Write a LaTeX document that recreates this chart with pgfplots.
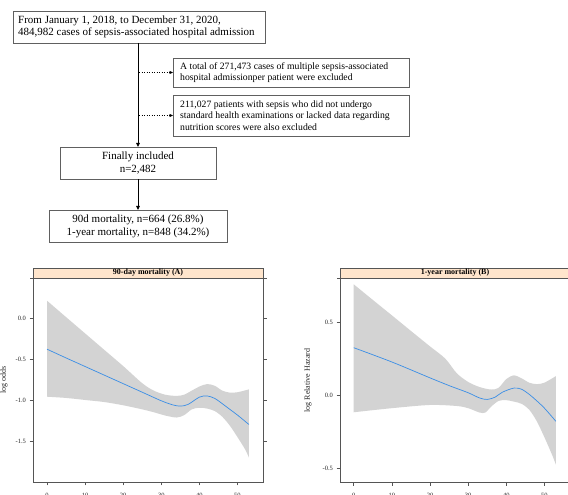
\documentclass[border=0pt]{standalone}
\usepackage{fontspec}
\setmainfont{Liberation Serif}
\usepackage{pgfplots}
\pgfplotsset{compat=1.18}
\usepgfplotslibrary{fillbetween}
\usetikzlibrary{arrows.meta}

\definecolor{stripc}{HTML}{FFE5CC}
\definecolor{bandc}{HTML}{D3D3D3}
\definecolor{curvec}{HTML}{3A8EE6}
\definecolor{axc}{HTML}{555555}
\definecolor{boxc}{HTML}{606060}

\pgfplotsset{
  panel/.style={
    scale only axis, width=230pt, height=204pt, anchor=south west,
    axis line style={axc, line width=0.8pt},
    tick style={axc, line width=0.6pt},
    tick align=outside, major tick length=3.5pt,
    xtick pos=bottom, ytick pos=both, yticklabel pos=left,
    xtick={0,10,20,30,40,50},
    ticklabel style={font=\fontsize{6.5}{7}\selectfont, text=black!85},
    xticklabel style={yshift=-4pt},
    /pgf/number format/assume math mode=true,
    yticklabel style={/pgf/number format/fixed, /pgf/number format/fixed zerofill, /pgf/number format/precision=1},
    ylabel style={font=\fontsize{8}{9}\selectfont, anchor=center, text=black!85},
    axis on top,
  }
}

\begin{document}
\begin{tikzpicture}[x=1pt,y=1pt]

% ---------- flowchart ----------
\draw[boxc, line width=0.8pt] (13,484) rectangle (265,452);
\node[anchor=west, align=left, font=\fontsize{11}{12.5}\selectfont, inner sep=0pt] at (18,468)
  {From January 1, 2018, to December 31, 2020,\\484,982 cases of sepsis-associated hospital admission};

\draw[black, line width=0.9pt, -{Triangle[length=4pt,width=3.5pt]}] (138,452) -- (138,348);

\draw[boxc, line width=0.8pt] (173,437) rectangle (409,408);
\node[anchor=west, align=left, font=\fontsize{9.7}{11.5}\selectfont, inner sep=0pt] at (180,422.5)
  {A total of 271,473 cases of multiple sepsis-associated\\hospital admissionper patient were excluded};
\draw[boxc, line width=0.8pt] (173,400) rectangle (409,359);
\node[anchor=west, align=left, font=\fontsize{9.7}{11.8}\selectfont, inner sep=0pt] at (180,379.5)
  {211,027 patients with sepsis who did not undergo\\standard health examinations or lacked data regarding\\nutrition scores were also excluded};

\draw[black, line width=0.5pt, dotted, -{Triangle[length=3.5pt,width=3pt]}] (139,422.5) -- (173,422.5);
\draw[black, line width=0.5pt, dotted, -{Triangle[length=3.5pt,width=3pt]}] (139,379.5) -- (173,379.5);

\draw[boxc, line width=0.8pt] (60,348) rectangle (216,316);
\node[align=center, font=\fontsize{11}{13}\selectfont, inner sep=0pt] at (138,332)
  {Finally included\\n=2,482};
\draw[black, line width=0.9pt, -{Triangle[length=4pt,width=3.5pt]}] (138,316) -- (138,285);
\draw[boxc, line width=0.8pt] (49,285) rectangle (227,253);
\node[align=center, font=\fontsize{11}{13}\selectfont, inner sep=0pt] at (138,269)
  {90d mortality, n=664 (26.8\%)\\1-year mortality, n=848 (34.2\%)};

% ---------- panel A ----------
\begin{axis}[panel, at={(33pt,13pt)},
  xmin=-3.7, xmax=56.7, ymin=-2, ymax=0.5,
  ytick={-1.5,-1,-0.5,0},
  ylabel={log odds},
  ylabel style={at={(axis description cs:-0.126,0.5)}}]
\addplot[name path=upA, draw=none, smooth] coordinates {
(0,0.221) (5,0.02) (10,-0.18) (15,-0.38) (20,-0.58) (25,-0.79) (28,-0.88) (31,-0.93) (34,-0.945) (36,-0.93) (38,-0.88) (40,-0.83) (42,-0.80) (44,-0.82) (46,-0.88) (48,-0.905) (50,-0.90) (53,-0.865)};
\addplot[name path=loA, draw=none, smooth] coordinates {
(0,-0.955) (5,-0.97) (10,-0.995) (15,-1.02) (20,-1.06) (25,-1.11) (28,-1.145) (31,-1.185) (34,-1.21) (36,-1.18) (38,-1.11) (40,-1.09) (42,-1.10) (44,-1.13) (46,-1.20) (48,-1.31) (50,-1.45) (52,-1.60) (53,-1.70)};
\addplot[bandc, draw=none] fill between[of=upA and loA];
\addplot[curvec, line width=0.7pt, smooth] coordinates {
(0,-0.373) (5,-0.48) (10,-0.585) (15,-0.69) (20,-0.795) (25,-0.90) (30,-1.005) (33,-1.055) (35,-1.07) (37,-1.05) (40,-0.96) (42,-0.945) (44,-0.975) (46,-1.04) (48,-1.11) (50,-1.18) (53,-1.295)};
\end{axis}
\draw[axc, line width=0.6pt, fill=stripc] (33,217) rectangle (263,227);
\draw[axc, line width=0.8pt] (30,217) -- (267,217);
\node[font=\bfseries\fontsize{8}{9}\selectfont, inner sep=0pt] at (148,222) {90-day mortality (A)};

% ---------- panel B ----------
\begin{axis}[panel, at={(340pt,12.5pt)},
  xmin=-3.6, xmax=56.7, ymin=-0.6, ymax=0.8,
  ytick={-0.5,0,0.5},
  ylabel={log Relative Hazard},
  ylabel style={at={(axis description cs:-0.139,0.5)}}]
\addplot[name path=upB, draw=none, smooth] coordinates {
(0,0.76) (5,0.653) (10,0.547) (15,0.44) (20,0.334) (24,0.25) (27,0.15) (30,0.09) (33,0.055) (36,0.038) (38,0.05) (40,0.11) (42,0.135) (44,0.115) (46,0.085) (48,0.075) (50,0.085) (53,0.13)};
\addplot[name path=loB, draw=none, smooth] coordinates {
(0,-0.118) (10,-0.09) (20,-0.068) (27,-0.075) (30,-0.09) (33,-0.12) (34.5,-0.12) (36,-0.08) (38,-0.04) (40,-0.035) (42,-0.045) (44,-0.06) (46,-0.10) (48,-0.18) (50,-0.29) (52,-0.41) (53,-0.477)};
\addplot[bandc, draw=none] fill between[of=upB and loB];
\addplot[curvec, line width=0.7pt, smooth] coordinates {
(0,0.325) (10,0.227) (20,0.118) (25,0.065) (30,0.016) (33,-0.02) (35,-0.03) (37,-0.015) (39,0.02) (42,0.048) (44,0.04) (46,0.005) (48,-0.04) (50,-0.09) (53,-0.18)};
\end{axis}
\draw[axc, line width=0.6pt, fill=stripc] (340,217) rectangle (570,227);
\draw[axc, line width=0.8pt] (337,217) -- (574,217);
\node[font=\bfseries\fontsize{8}{9}\selectfont, inner sep=0pt] at (455,222) {1-year mortality (B)};

\pgfresetboundingbox
\path[use as bounding box] (0,0) rectangle (568,495);
\end{tikzpicture}
\end{document}
